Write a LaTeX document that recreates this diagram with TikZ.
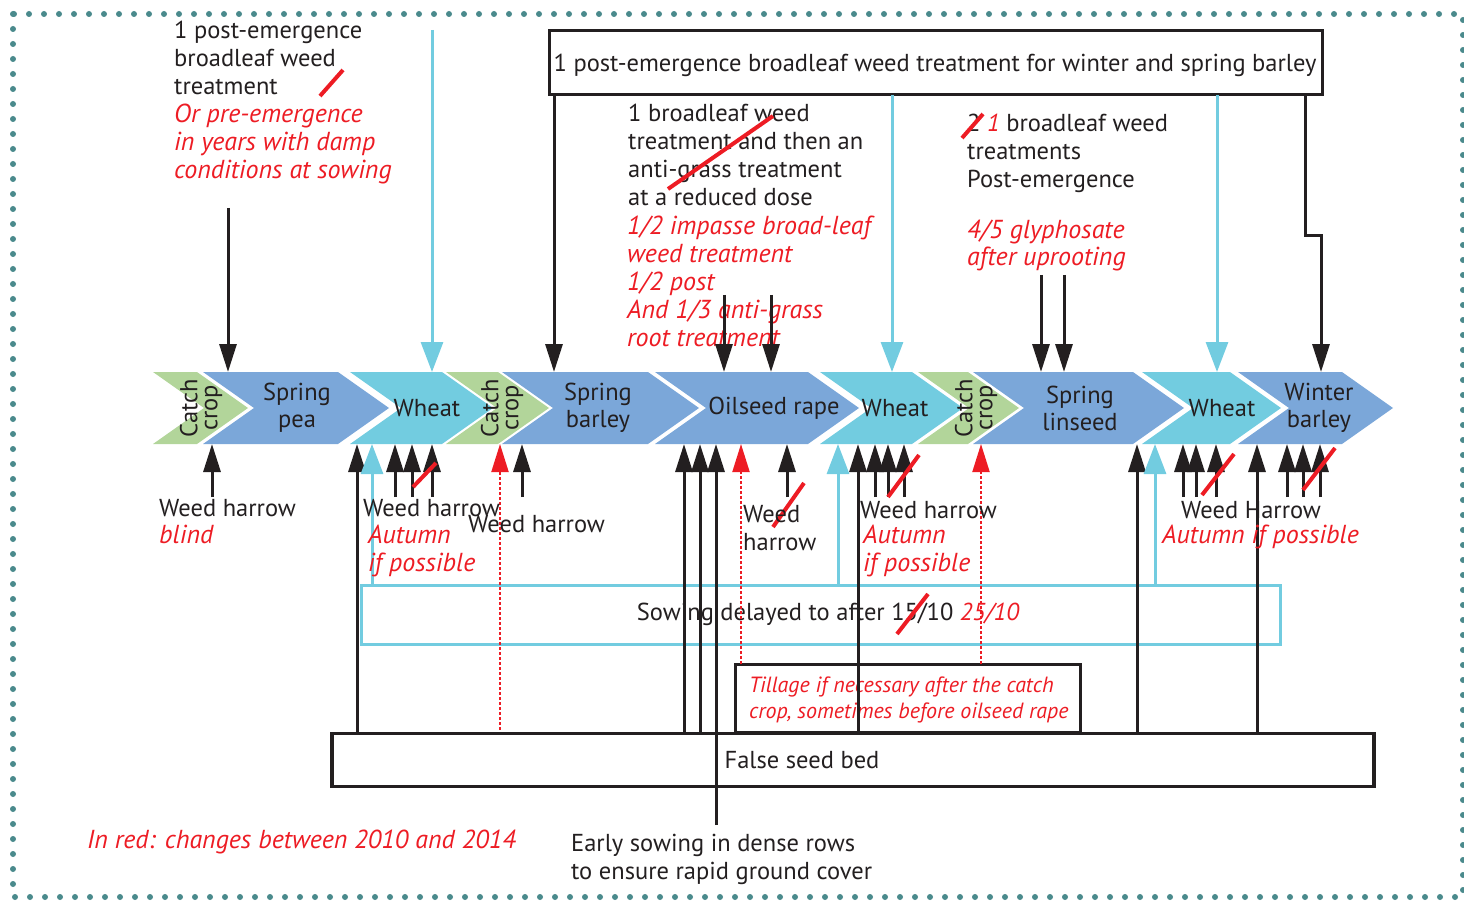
\documentclass[tikz,border=0pt]{standalone}
\usepackage{fontspec}
\setmainfont{PT Sans}
\usetikzlibrary{arrows.meta}
\definecolor{tblue}{HTML}{7BA7D9}
\definecolor{tcyan}{HTML}{72CCE0}
\definecolor{tgreen}{HTML}{B2D59A}
\definecolor{tred}{HTML}{ED1C24}
\definecolor{tdark}{HTML}{231F20}
\definecolor{tteal}{HTML}{4A8A8C}
\tikzset{
  blk/.style={draw=tdark, line width=3pt, -{Triangle[width=17pt,length=28pt]}},
  cyn/.style={draw=tcyan, line width=3pt, -{Triangle[width=22pt,length=30pt]}},
  rdd/.style={draw=tred, line width=2pt, dash pattern=on 3pt off 2pt, -{Triangle[width=17pt,length=28pt]}},
  slash/.style={draw=tred, line width=4pt},
  txt/.style={font=\fontsize{24.5}{28}\selectfont, text=tdark, inner sep=0pt, align=left},
  rtxt/.style={font=\fontsize{26}{28}\selectfont\itshape, text=tred, inner sep=0pt, align=left},
  band/.style={font=\fontsize{24.5}{27}\selectfont, text=tdark, inner sep=0pt, align=center},
  boxk/.style={draw=tdark, line width=3pt},
}
\begin{document}
\begin{tikzpicture}[x=1pt,y=-1pt]
\useasboundingbox (0,0) rectangle (1464,901);
% dotted frame
\draw[tteal, line width=6pt, dash pattern=on 0pt off 15pt, line cap=round] (13,14) rectangle (1463,897);

% chevrons
\foreach \L/\R/\c in {153/197/tgreen, 203/338/tblue, 350/442/tcyan, 446/498/tgreen, 502/648/tblue, 655/808/tblue, 820/912/tcyan, 918/968/tgreen, 973/1133/tblue, 1142/1230/tcyan, 1238/1342/tblue}
  \fill[\c] (\L,372) -- (\R,372) -- ({\R+51},408) -- (\R,444) -- (\L,444) -- ({\L+51},408) -- cycle;

% band labels
\node[band, rotate=90] (cc1) at (201,408) {Catch\\[-7pt]crop};
\node[band] (sp) at (297,408) {Spring\\pea};
\node[band] (w1) at (427,408) {Wheat};
\node[band, rotate=90] (cc2) at (502,408) {Catch\\[-7pt]crop};
\node[band] (sb) at (598,408) {Spring\\barley};
\node[band] (osr) at (774,408) {Oilseed rape};
\node[band] (w2) at (895,408) {Wheat};
\node[band, rotate=90] (cc3) at (976,408) {Catch\\[-7pt]crop};
\node[band] (sl) at (1080,408) {Spring\\linseed};
\node[band] (w3) at (1222,408) {Wheat};
\node[band] (wb) at (1319,408) {Winter\\barley};

% top box
\node[boxk, minimum width=773pt, minimum height=64pt, inner sep=0pt] (topbox) at (935.5,63) {};
\node[txt, anchor=base] (toptxt) at (935,72) {1 post-emergence broadleaf weed treatment for winter and spring barley};

% top texts (anchor = baseline of last line)
\node[txt, anchor=base west] (t1) at (174,95) {1 post-emergence\\broadleaf weed\\treatment};
\node[rtxt, anchor=base west] (t1r) at (174,179) {Or pre-emergence\\in years with damp\\conditions at sowing};
\draw[slash] (320,96) -- (343,70);

\node[txt, anchor=base west] (t2) at (628,206) {1 broadleaf weed\\treatment and then an\\anti-grass treatment\\at a reduced dose};
\node[rtxt, anchor=base west] (t2r) at (627,346) {1/2 impasse broad-leaf\\weed treatment\\1/2 post\\And 1/3 anti-grass\\root treatment};
\draw[slash] (668,189) -- (773,116);

\node[txt, anchor=base west] (t3) at (967,188) {2 {\itshape\color{tred}1} broadleaf weed\\treatments\\Post-emergence};
\draw[slash] (962,138) -- (983,114);
\node[rtxt, anchor=base west] (t3r) at (967,266) {4/5 glyphosate\\after uprooting};

% top arrows
\coordinate (a1s) at (228,208); \coordinate (a1e) at (228,372);
\draw[blk] (a1s) -- (a1e);
\coordinate (c1s) at (432,30); \coordinate (c1e) at (432,372);
\draw[cyn] (c1s) -- (c1e);
\coordinate (a2s) at (554,95); \coordinate (a2e) at (554,372);
\draw[blk] (a2s) -- (a2e);
\foreach \x/\ys [count=\i] in {724/295, 771/295, 1041/275, 1064/275} {
  \coordinate (ms\i) at (\x,\ys); \coordinate (me\i) at (\x,372);
  \draw[blk] (ms\i) -- (me\i);
}
\coordinate (c2s) at (892,95); \coordinate (c2e) at (892,372);
\draw[cyn] (c2s) -- (c2e);
\coordinate (c3s) at (1217,95); \coordinate (c3e) at (1217,372);
\draw[cyn] (c3s) -- (c3e);
\coordinate (a3s) at (1305,95); \coordinate (a3e) at (1321,372);
\draw[blk] (a3s) -- (1305,236) -- (1321,236) -- (a3e);

% bottom boxes
\node[draw=tcyan, line width=3pt, minimum width=919pt, minimum height=59pt, inner sep=0pt] (sow) at (820.5,614.5) {};
\node[boxk, minimum width=345pt, minimum height=68pt, inner sep=0pt] (till) at (907.5,698) {};
\node[boxk, line width=3.5pt, minimum width=1042pt, minimum height=53pt, inner sep=0pt] (fsb) at (853,760) {};

\node[txt, anchor=base] (sowt) at (828,620) {Sowing delayed to after 15/10 {\itshape\color{tred}25/10}};
\draw[slash] (897,634) -- (928,594);
\node[rtxt, font=\fontsize{22}{26}\selectfont\itshape, anchor=base west] (tillt) at (749,718) {Tillage if necessary after the catch\\crop, sometimes before oilseed rape};
\node[txt, anchor=base] (fsbt) at (802,768) {False seed bed};

% long black arrows from false seed bed
\foreach \x [count=\i] in {357,684,700,858,1137,1257} {
  \coordinate (lb\i) at (\x,733); \coordinate (lt\i) at (\x,444);
  \draw[blk] (lb\i) -- (lt\i);
}
\coordinate (es) at (716,825); \coordinate (ee) at (716,444);
\draw[blk] (es) -- (ee);
% cyan arrows from sowing box
\foreach \x [count=\i] in {372,838,1155} {
  \coordinate (cb\i) at (\x,585); \coordinate (ct\i) at (\x,444);
  \draw[cyn] (cb\i) -- (ct\i);
}
% red dotted arrows
\coordinate (r1b) at (500,730); \coordinate (r1t) at (500,444);
\draw[rdd] (r1b) -- (r1t);
\coordinate (r2b) at (741,664); \coordinate (r2t) at (741,444);
\draw[rdd] (r2b) -- (r2t);
\coordinate (r3b) at (981,664); \coordinate (r3t) at (981,444);
\draw[rdd] (r3b) -- (r3t);
% short weed-harrow arrows
\foreach \x [count=\i] in {212,395,412,432,522,787,875,888,904,1183,1196,1216,1287,1303,1320} {
  \coordinate (sb\i) at (\x,497); \coordinate (st\i) at (\x,444);
  \draw[blk] (sb\i) -- (st\i);
}
% bottom slashes
\draw[slash] (413,487) -- (436,463);
\draw[slash] (773,527) -- (804,483);
\draw[slash] (888,497) -- (919,455);
\draw[slash] (1202,495) -- (1234,454);
\draw[slash] (1303,490) -- (1335,448);

% bottom labels
\node[txt, anchor=base west] (wh1) at (159,516) {Weed harrow};
\node[rtxt, anchor=base west] (wh1r) at (159,543) {blind};
\node[txt, anchor=base west] (wh2) at (363,516) {Weed harrow};
\node[rtxt, anchor=base west] (wh2r) at (368,571) {Autumn\\if possible};
\node[txt, anchor=base west] (wh3) at (468,532) {Weed harrow};
\node[txt, anchor=base west] (wh4) at (743,550) {Weed\\harrow};
\node[txt, anchor=base west] (wh5) at (860,518) {Weed harrow};
\node[rtxt, anchor=base west] (wh5r) at (863,571) {Autumn\\if possible};
\node[txt, anchor=base west] (wh6) at (1181,518) {Weed Harrow};
\node[rtxt, anchor=base west] (wh6r) at (1162,543) {Autumn if possible};

\node[rtxt, anchor=base west] (note) at (87,848) {In red: changes between 2010 and 2014};
\node[txt, anchor=base west] (early) at (571,879) {Early sowing in dense rows\\to ensure rapid ground cover};
\end{tikzpicture}
\end{document}
